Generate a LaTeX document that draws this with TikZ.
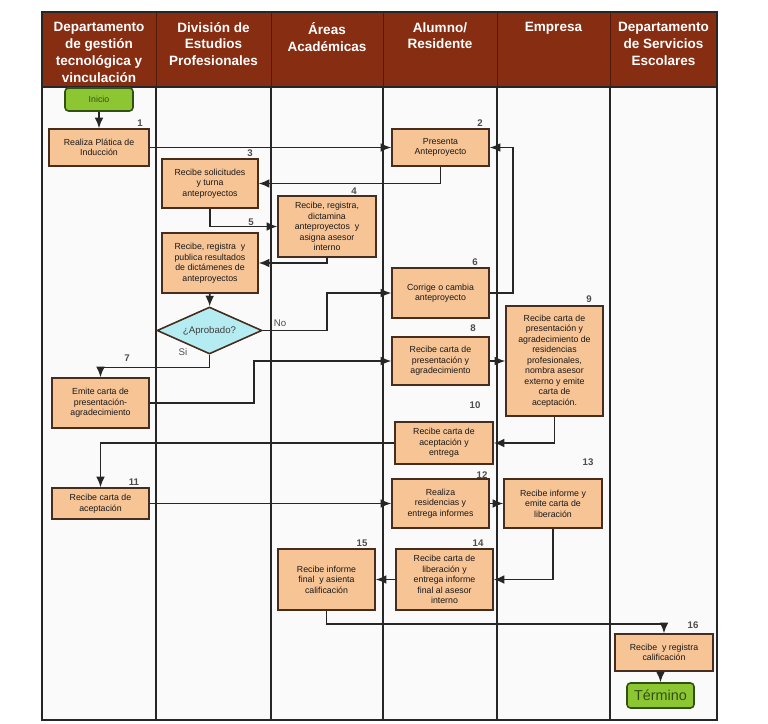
\documentclass[tikz,border=0pt]{standalone}
\usepackage{fontspec}
\setmainfont{Liberation Sans}
\usetikzlibrary{shapes.geometric,arrows.meta}

\definecolor{cabecera}{RGB}{135,45,18}
\definecolor{naranja}{RGB}{247,196,150}
\definecolor{borde}{RGB}{70,45,30}
\definecolor{verde}{RGB}{140,198,50}
\definecolor{verdeosc}{RGB}{50,80,20}
\definecolor{cian}{RGB}{180,236,242}
\definecolor{fondo}{RGB}{250,250,250}

\begin{document}
\begin{tikzpicture}[x=0.02cm,y=-0.02cm,
    paso/.style={draw=borde,line width=0.9pt,fill=naranja,align=center,
        font=\fontsize{5}{6}\selectfont,text=black!90,inner sep=1pt,
        minimum width=1.94cm},
    inicio/.style={draw=verdeosc,line width=0.9pt,fill=verde,rounded corners=2pt,
        font=\fontsize{5}{6}\selectfont,text=verdeosc,inner sep=1pt},
    decision/.style={diamond,draw=borde,line width=0.9pt,fill=cian,aspect=2.2,
        font=\fontsize{5.5}{6}\selectfont,text=black!75,inner sep=0pt,
        minimum width=2.1cm,minimum height=0.94cm},
    titulo/.style={anchor=north,align=center,text=white,
        font=\fontsize{7.7}{9.6}\selectfont\bfseries},
    num/.style={font=\fontsize{5.5}{6}\selectfont\bfseries,text=black!70},
    flecha/.style={draw=black!85,line width=0.9pt,-{Latex[length=6pt,width=5pt]}}]

    \useasboundingbox (0,0) rectangle (768,724);

    % Draw the frame and the header
    \fill[fondo] (42,12) rectangle (717,720);
    \fill[cabecera] (42,12) rectangle (717,87);
    \foreach \x in {156,271,383,497,610} {
        \draw[cabecera!60!black,line width=0.4pt] (\x,12) -- (\x,87);
        \draw[black!85,line width=0.9pt] (\x,87) -- (\x,720);
    }
    \draw[black!85,line width=1pt] (42,12) rectangle (717,720);
    \draw[black!85,line width=0.9pt] (42,87) -- (717,87);

    % Lane titles
    \foreach \x/\t in {99/{Departamento\\de gestión\\tecnológica y\\vinculación},
                       213.5/{División de\\Estudios\\Profesionales},
                       327/{Áreas\\Académicas},
                       440/{Alumno/\\Residente},
                       553.5/{Empresa},
                       663.5/{Departamento\\de Servicios\\Escolares}} {
        \node[titulo] at (\x,16) {\t};
    }

    % Steps
    \node[inicio, minimum width=1.36cm, minimum height=0.46cm] (ini) at (99,99.5) {Inicio};
    \node[paso, minimum width=2cm, minimum height=0.74cm] (p1) at (99,147.5) {Realiza Plática de\\Inducción};
    \node[paso, minimum height=0.74cm] (p2) at (440.5,147.5) {Presenta\\Anteproyecto};
    \node[paso, minimum width=1.92cm, minimum height=0.98cm] (p3) at (210,183.5) {Recibe solicitudes\\y turna\\anteproyectos};
    \node[paso, minimum width=1.96cm, minimum height=1.22cm] (p4) at (327,226.5) {Recibe, registra,\\dictamina\\anteproyectos~ y\\asigna asesor\\interno};
    \node[paso, minimum width=1.92cm, minimum height=1.2cm] (p5) at (210,263) {Recibe, registra~ y\\publica resultados\\de dictámenes de\\anteproyectos};
    \node[decision] (dec) at (209.5,330.5) {¿Aprobado?};
    \node[paso, minimum height=1cm] (p6) at (440.5,293) {Corrige o cambia\\anteproyecto};
    \node[paso, minimum height=1cm] (p7) at (100.5,403) {Emite carta de\\presentación-\\agradecimiento};
    \node[paso, minimum height=0.96cm] (p8) at (440.5,361) {Recibe carta de\\presentación y\\agradecimiento};
    \node[paso, minimum height=2.2cm] (p9) at (554.5,361) {Recibe carta de\\presentación y\\agradecimiento de\\residencias\\profesionales,\\nombra asesor\\externo y emite\\carta de\\aceptación.};
    \node[paso, minimum width=1.96cm, minimum height=0.84cm] (p10) at (444,443) {Recibe carta de\\aceptación y\\entrega};
    \node[paso, minimum height=0.62cm] (p11) at (100.5,503.5) {Recibe carta de\\aceptación};
    \node[paso, minimum height=0.98cm] (p12) at (440.5,503.5) {Realiza\\residencias y\\entrega informes};
    \node[paso, minimum width=1.96cm, minimum height=0.98cm] (p13) at (553,503.5) {Recibe informe y\\emite carta de\\liberación};
    \node[paso, minimum height=1.22cm] (p14) at (444.5,579.5) {Recibe carta de\\liberación y\\entrega informe\\final al asesor\\interno};
    \node[paso, minimum height=1.22cm] (p15) at (326.5,579.5) {Recibe informe\\final~ y asienta\\calificación};
    \node[paso, minimum width=1.96cm, minimum height=0.74cm] (p16) at (664,652.5) {Recibe~ y registra\\calificación};
    \node[inicio, minimum width=1.34cm, minimum height=0.5cm,
          font=\fontsize{8.2}{9}\selectfont] (fin) at (660.5,695.5) {Término};

    % Step numbers
    \foreach \n/\x/\y in {1/140/123, 2/480/123, 3/250/153, 4/354/191, 5/251/222,
                          6/475/262, 7/127/358, 8/473/328, 9/589/299, 10/475/405,
                          11/134/482, 12/482/475, 13/588/462, 14/478/543,
                          15/362/543, 16/693/625} {
        \node[num] (n\n) at (\x,\y) {\n};
    }
    \node[num, font=\fontsize{5.5}{6}\selectfont] (no) at (280,323) {No};
    \node[num, font=\fontsize{5.5}{6}\selectfont] (si) at (183,352) {Si};

    % Connectors
    \draw[flecha] (ini) -- (p1);
    \draw[flecha] (p1) -- (p2);
    \draw[flecha] (p2.south) |- (p3.east);
    \draw[flecha] (p3.south) |- (p4.west);
    \draw[flecha] (p4.south) |- (p5.east);
    \draw[flecha] (p5) -- (dec);
    \draw[flecha] (dec.east) -- (dec.east -| p4) |- (p6.west);
    \draw[flecha] (p6.east) -- ++(23,0) |- (p2.east);
    \draw[flecha] (dec.south) -- ++(0,12.5) -| (p7.north);
    \draw[flecha] (p7.east) -- ++(104,0) |- (p8.west);
    \draw[flecha] (p8) -- (p9);
    \draw[flecha] (p9.south) |- (p10.east);
    \draw[flecha] (p10.west) -| (p11.north);
    \draw[flecha] (p11) -- (p12);
    \draw[flecha] (p12) -- (p13);
    \draw[flecha] (p13.south) |- (p14.east);
    \draw[flecha] (p14) -- (p15);
    \draw[flecha] (p15.south) -- ++(0,13) -| (p16.north);
    \draw[flecha] (p16.south -| fin) -- (fin);
\end{tikzpicture}
\end{document}
